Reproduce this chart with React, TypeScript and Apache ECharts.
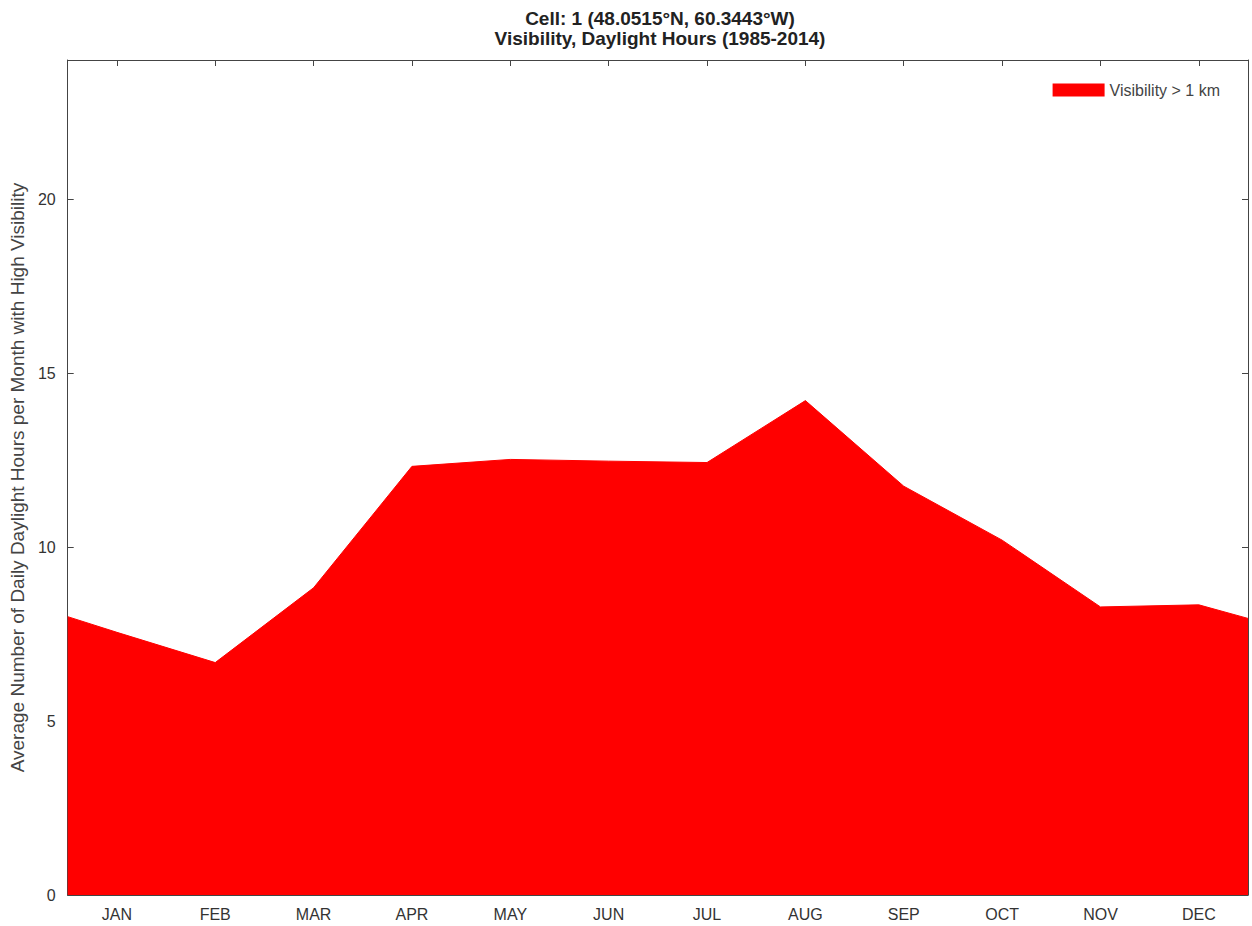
import React, { useEffect, useRef } from "react";
import * as echarts from "echarts";

const months = ["JAN", "FEB", "MAR", "APR", "MAY", "JUN", "JUL", "AUG", "SEP", "OCT", "NOV", "DEC"];
const xPositions = [0.5, 1, 2, 3, 4, 5, 6, 7, 8, 9, 10, 11, 12, 12.5];
const hoursValues = [8.0, 7.55, 6.68, 8.83, 12.32, 12.52, 12.47, 12.43, 14.21, 11.75, 10.2, 8.28, 8.34, 7.95];
const yTicks = [0, 5, 10, 15, 20];

const FONT = "Liberation Sans, Arial, Helvetica, sans-serif";

export default function App() {
  const ref = useRef<HTMLDivElement>(null);
  useEffect(() => {
    if (!ref.current) return;
    const chart = echarts.init(ref.current, null, { renderer: "svg" });
    const seriesData = xPositions.map((x, i) => [x, hoursValues[i]]);
    chart.setOption({
      animation: false,
      backgroundColor: "#ffffff",
      title: {
        text: "Cell: 1 (48.0515°N, 60.3443°W)\nVisibility, Daylight Hours (1985-2014)",
        left: 655,
        textAlign: "center",
        top: 3,
        textStyle: { fontFamily: FONT, fontSize: 19, fontWeight: "bold", color: "#222", lineHeight: 20 },
      },
      legend: {
        right: 27,
        top: 77,
        icon: "rect",
        itemWidth: 52,
        itemHeight: 13,
        itemGap: 6,
        data: [{ name: "Visibility > 1 km", itemStyle: { color: "#ff0000" } }],
        textStyle: { fontFamily: FONT, fontSize: 16, color: "#444" },
      },
      grid: { left: 63, right: 4, top: 60, bottom: 31, containLabel: false },
      xAxis: [
        {
          type: "value",
          min: 0.5,
          max: 12.5,
          show: false,
        },
        {
          type: "category",
          data: months,
          boundaryGap: true,
          position: "bottom",
          axisLine: { show: true, lineStyle: { color: "#444", width: 1 } },
          axisTick: { show: true, alignWithLabel: true, inside: true, length: 6, lineStyle: { color: "#444" } },
          axisLabel: { fontFamily: FONT, fontSize: 16, color: "#333", margin: 11 },
          splitLine: { show: false },
        },
        {
          type: "category",
          data: months,
          boundaryGap: true,
          position: "top",
          axisLine: { show: true, lineStyle: { color: "#444", width: 1 } },
          axisTick: { show: true, alignWithLabel: true, inside: true, length: 6, lineStyle: { color: "#444" } },
          axisLabel: { show: false },
          splitLine: { show: false },
        },
      ],
      yAxis: [
        {
          type: "value",
          min: 0,
          max: 24,
          interval: 5,
          position: "left",
          name: "Average Number of Daily Daylight Hours per Month with High Visibility",
          nameLocation: "middle",
          nameGap: 37,
          nameTextStyle: { fontFamily: FONT, fontSize: 19, color: "#444" },
          axisLine: { show: true, lineStyle: { color: "#444", width: 1 } },
          axisTick: { show: true, inside: true, length: 6, lineStyle: { color: "#444" } },
          axisLabel: {
            fontFamily: FONT,
            fontSize: 16,
            color: "#333",
            margin: 12,
            formatter: (v: number) => (yTicks.includes(v) ? String(v) : ""),
          },
          splitLine: { show: false },
        },
        {
          type: "value",
          min: 0,
          max: 24,
          interval: 5,
          position: "right",
          axisLine: { show: true, lineStyle: { color: "#444", width: 1 } },
          axisTick: { show: true, inside: true, length: 6, lineStyle: { color: "#444" } },
          axisLabel: { show: false },
          splitLine: { show: false },
        },
      ],
      series: [
        {
          name: "Visibility > 1 km",
          type: "line",
          xAxisIndex: 0,
          yAxisIndex: 0,
          data: seriesData,
          symbol: "none",
          lineStyle: { color: "#ff0000", width: 1 },
          itemStyle: { color: "#ff0000" },
          areaStyle: { color: "#ff0000", opacity: 1 },
          z: 1,
        },
      ],
    });
    return () => chart.dispose();
  }, []);
  return <div ref={ref} style={{ width: 1252, height: 926, position: "absolute", left: 0, top: 0, background: "#fff" }} />;
}
